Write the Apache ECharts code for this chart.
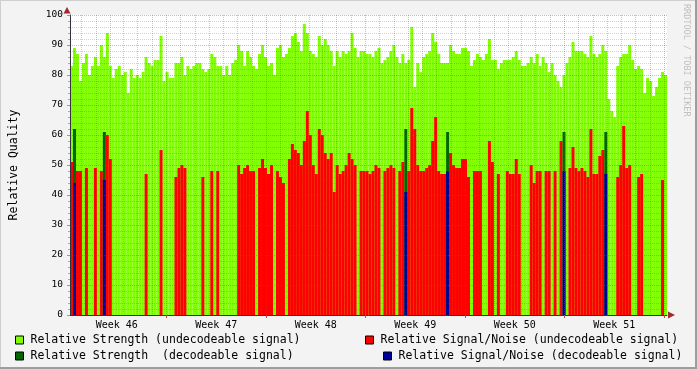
<!DOCTYPE html>
<html><head><meta charset="utf-8">
<script src="https://cdn.jsdelivr.net/npm/echarts@6/dist/echarts.min.js"></script>
<style>html,body{margin:0;padding:0;background:#F3F3F3}#c{width:697px;height:369px}</style>
</head><body><div id="c"></div>
<script>
// ---- data ----
const weekLabels = ['Week 46', 'Week 47', 'Week 48', 'Week 49', 'Week 50', 'Week 51'];
const startHour = 5.9;      // hours after Monday 00:00 of week 46 at the left edge
const barHours = 5.04;      // time covered by one sample
const hoursPerPixelStep = 1.68;
const strengthUndecodeable = [
 83,89,87,78,84,87,80,83,86,83,90,86,94,83,79,82,83,80,81,74,
 82,79,80,79,81,86,84,83,85,85,93,78,81,79,79,84,84,86,80,83,
 82,83,84,84,82,81,82,87,86,83,83,80,83,80,84,85,90,88,83,88,
 86,83,82,87,90,86,83,84,80,89,90,86,87,89,93,94,91,88,97,94,
 88,87,86,93,90,92,90,88,83,88,86,88,87,88,94,89,86,88,88,87,
 87,86,88,89,84,85,86,88,90,86,84,87,84,85,96,76,84,81,86,87,
 88,94,91,87,84,84,84,90,88,87,87,89,89,88,83,85,87,86,85,87,
 92,85,85,82,84,85,85,85,86,88,85,83,83,84,86,84,87,83,86,84,
 81,84,80,78,76,80,84,86,91,88,88,88,87,86,93,87,86,87,90,88,
 72,68,66,83,86,87,87,90,85,82,83,82,74,79,78,73,76,79,81,80
];
const snrUndecodeable = [
 51,0,48,48,0,49,0,0,49,0,48,0,60,52,0,0,0,0,0,0,
 0,0,0,0,0,47,0,0,0,0,55,0,0,0,0,46,49,50,49,0,
 0,0,0,0,46,0,0,48,0,48,0,0,0,0,0,0,50,47,49,50,
 48,48,0,49,52,49,47,50,0,48,46,44,0,52,57,55,54,50,58,68,
 60,50,47,62,60,54,52,54,41,50,47,48,50,54,52,50,0,48,48,48,
 47,48,50,49,0,48,49,50,49,0,48,51,0,48,69,62,50,48,48,49,
 50,58,66,48,47,47,0,54,50,49,49,52,52,46,0,48,48,48,0,0,
 58,51,0,47,0,0,48,47,47,52,47,0,0,0,50,44,48,48,0,48,
 48,0,48,0,58,0,0,49,56,49,48,49,48,46,62,47,47,53,55,0,
 0,0,0,46,50,63,49,50,0,0,46,47,0,0,0,0,0,0,45,0
];
const decodeableSample = [1, 11, 112, 126, 165, 179];
const strengthDecodeable = [62, 61, 62, 61, 61, 61];
const snrDecodeable = [44, 45, 41, 48, 48, 47];

const names = {
  s1: 'Relative Strength (undecodeable signal)',
  s2: 'Relative Strength  (decodeable signal)',
  r1: 'Relative Signal/Noise (undecodeable signal)',
  r2: 'Relative Signal/Noise (decodeable signal)'
};
const FONT = 'DejaVu Sans Mono';

// ---- build ----
const n = strengthUndecodeable.length;
const barTimes = strengthUndecodeable.map((_, i) => (startHour + i * barHours).toFixed(2));
const fullS2 = new Array(n).fill(null);
const fullR2 = new Array(n).fill(null);
decodeableSample.forEach((idx, k) => { fullS2[idx] = strengthDecodeable[k]; fullR2[idx] = snrDecodeable[k]; });
const r1 = snrUndecodeable.map(v => v ? v : null);

// time scale used for the grid and week labels (one step per pixel column)
const steps = n * 3;
const gridHours = [];
for (let k = 0; k <= steps; k++) gridHours.push(startHour + k * hoursPerPixelStep);
const crosses = (k, period, offset) => k > 0 &&
  Math.floor((gridHours[k] - offset) / period) !== Math.floor((gridHours[k - 1] - offset) / period);
const isWeek = k => crosses(k, 168, 0);
const isDay = k => crosses(k, 24, 0) && !isWeek(k);
const isLabel = k => crosses(k, 168, 84);

function legendItem(name, left, top) {
  return {data: [name], orient: 'vertical', left: left, top: top, padding: 0, itemWidth: 8, itemHeight: 8,
    icon: 'rect', selectedMode: false, itemStyle: {borderColor: '#000', borderWidth: 1},
    textStyle: {fontFamily: FONT, fontSize: 11.5, color: '#000', lineHeight: 14, padding: [0, 0, 0, 2]}};
}

const chart = echarts.init(document.getElementById('c'), null, {renderer: 'canvas'});
const common = {type: 'bar', xAxisIndex: 0, barGap: '-100%', barCategoryGap: '0%', animation: false, z: 2};
chart.setOption({
  animation: false,
  backgroundColor: '#F3F3F3',
  grid: {left: 67, top: 15, width: 600, height: 300, show: true, backgroundColor: '#FFFFFF', borderWidth: 0},
  xAxis: [
    {type: 'category', data: barTimes, boundaryGap: true, show: false},
    {type: 'category', data: gridHours, boundaryGap: false, position: 'bottom', zlevel: 1,
      axisLine: {show: true, lineStyle: {color: '#333340', width: 1}},
      axisTick: {show: false},
      axisLabel: {show: true, interval: (i) => isLabel(i), margin: 5,
        formatter: (v) => weekLabels[Math.floor(Number(v) / 168)] || '',
        fontFamily: FONT, fontSize: 10, color: '#000'},
      splitLine: {show: true, interval: (i) => isDay(i),
        lineStyle: {color: 'rgba(80,80,80,0.3)', type: [1, 1], width: 1}}
    },
    {type: 'category', data: gridHours, boundaryGap: false, position: 'bottom', zlevel: 1,
      axisLine: {show: false},
      axisTick: {show: true, interval: (i) => isWeek(i), length: 3, lineStyle: {color: '#D04040'}},
      axisLabel: {show: false},
      splitLine: {show: true, interval: (i) => isWeek(i),
        lineStyle: {color: 'rgba(210,50,50,0.4)', type: [1, 1], width: 1}}
    }
  ],
  yAxis: {
    type: 'value', min: 0, max: 100, interval: 10, zlevel: 1,
    name: 'Relative Quality', nameLocation: 'middle', nameGap: 50, nameRotate: 90,
    nameTextStyle: {fontFamily: FONT, fontSize: 11.5, color: '#000'},
    axisLine: {show: true, lineStyle: {color: '#333340', width: 1}},
    axisTick: {show: true, length: 3, lineStyle: {color: '#999'}},
    minorTick: {show: true, splitNumber: 5, length: 2, lineStyle: {color: '#aaa'}},
    axisLabel: {fontFamily: FONT, fontSize: 9.5, color: '#000', margin: 7},
    splitLine: {show: true, lineStyle: {color: 'rgba(210,50,50,0.4)', type: [1, 1], width: 1}},
    minorSplitLine: {show: true, lineStyle: {color: 'rgba(80,80,80,0.25)', type: [1, 1], width: 1}}
  },
  legend: [
    legendItem(names.s1, 15, 333),
    legendItem(names.s2, 15, 349),
    legendItem(names.r1, 365, 333),
    legendItem(names.r2, 383, 349)
  ],
  series: [
    Object.assign({name: names.s1, data: strengthUndecodeable, itemStyle: {color: '#80FF00'}}, common),
    Object.assign({name: names.r1, data: r1, itemStyle: {color: '#FF0000'}}, common),
    Object.assign({name: names.s2, data: fullS2, itemStyle: {color: '#006600'}}, common),
    Object.assign({name: names.r2, data: fullR2, itemStyle: {color: '#000099'}}, common)
  ],
  graphic: [
    {type: 'polygon', shape: {points: [[63.5, 13.5], [70.5, 13.5], [67, 7]]}, style: {fill: '#A0282E'}, z: 10},
    {type: 'polygon', shape: {points: [[668, 311.5], [668, 318.5], [675, 315]]}, style: {fill: '#A0282E'}, z: 10},
    {type: 'text', x: 686.5, y: 4, rotation: -Math.PI / 2,
      style: {text: 'RRDTOOL / TOBI OETIKER', font: '8.5px "DejaVu Sans Mono"', fill: '#C0C0C0', align: 'left', verticalAlign: 'middle'}},
    {type: 'rect', shape: {x: 0, y: 0, width: 697, height: 1}, style: {fill: '#CFCFCF'}},
    {type: 'rect', shape: {x: 0, y: 0, width: 1, height: 369}, style: {fill: '#CFCFCF'}},
    {type: 'rect', shape: {x: 695, y: 0, width: 2, height: 369}, style: {fill: '#9E9E9E'}},
    {type: 'rect', shape: {x: 0, y: 367, width: 697, height: 2}, style: {fill: '#9E9E9E'}}
  ]
});
</script></body></html>
